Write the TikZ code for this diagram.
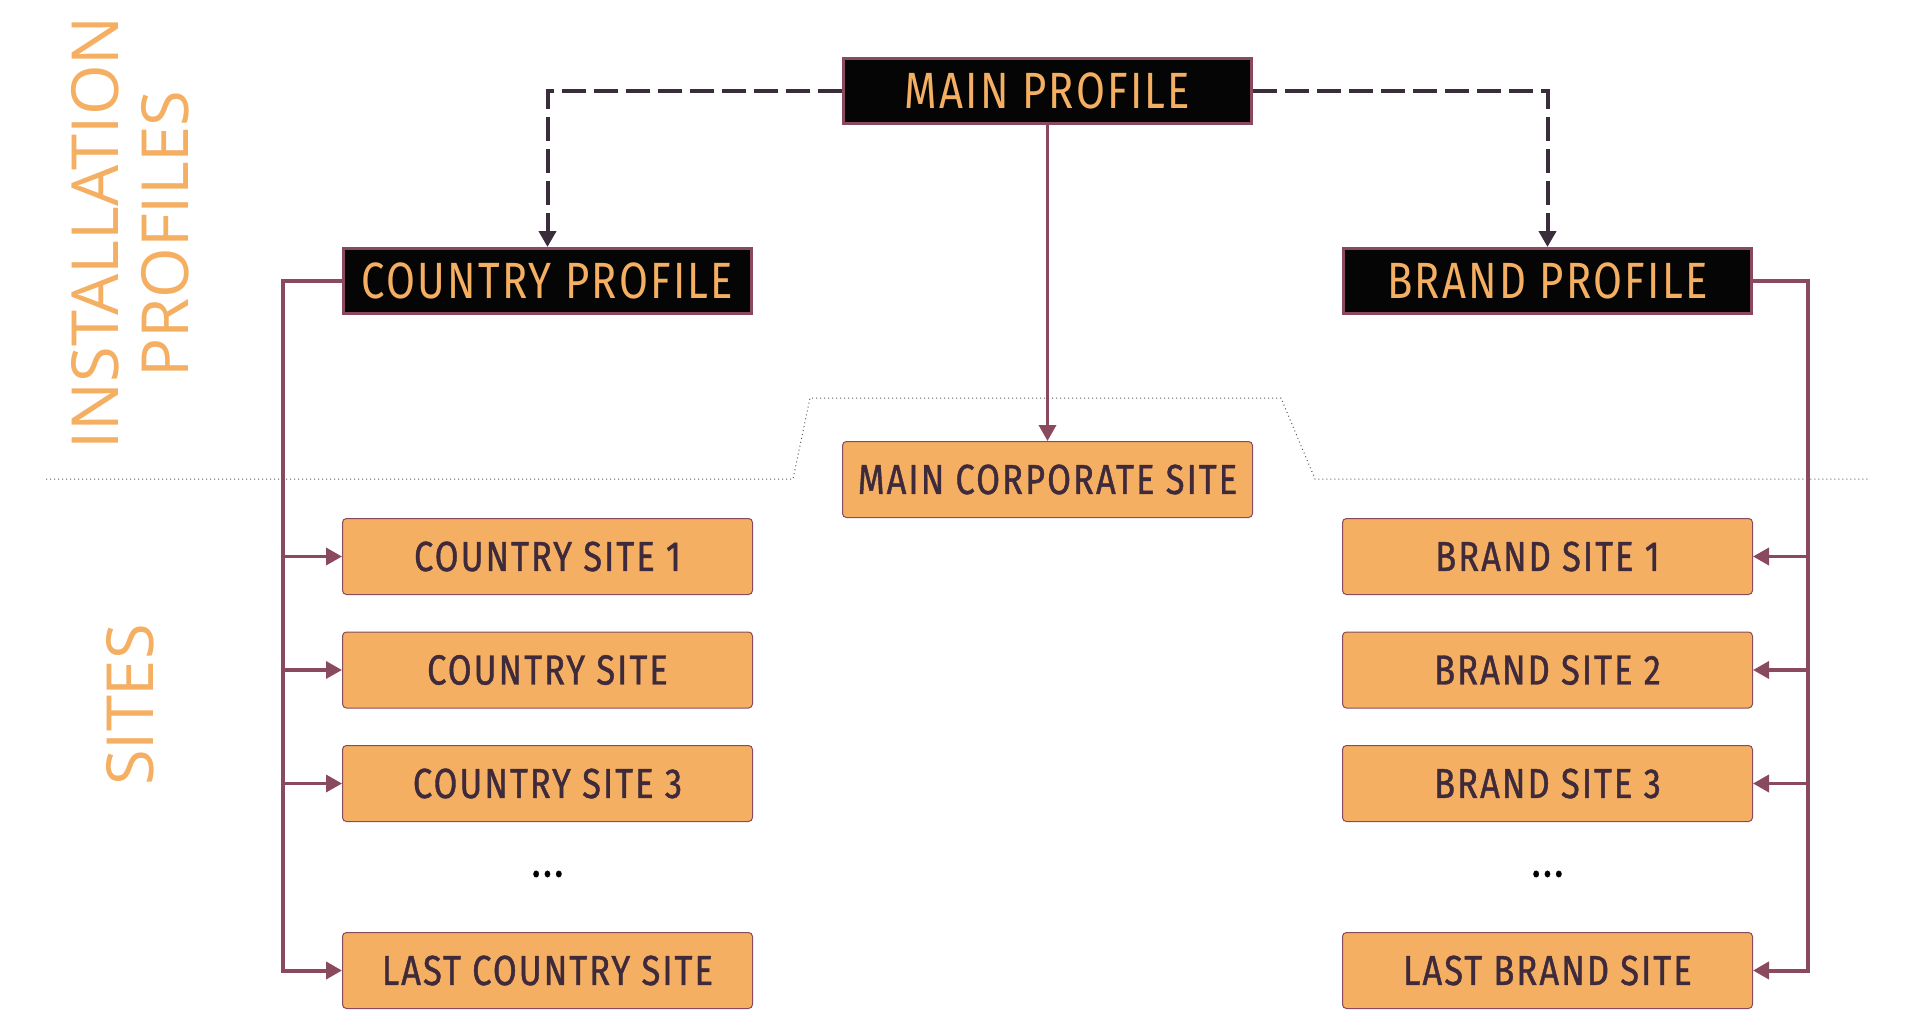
\documentclass[tikz,border=0pt]{standalone}
\usepackage{fontspec}
\setmainfont{Fira Sans}
\newfontfamily\condf{Fira Sans}[FakeStretch=0.82,LetterSpace=4.5]
\newfontfamily\condbf{Fira Sans}[FakeStretch=0.82,LetterSpace=5,FakeBold=1]
\newfontfamily\sidef{Open Sans}
\usetikzlibrary{arrows.meta}
\definecolor{mauve}{HTML}{8A4A5D}
\definecolor{orangeF}{HTML}{F4AF62}
\definecolor{darkT}{HTML}{3E2A3B}
\definecolor{dashC}{HTML}{3A2C3A}
\tikzset{
  profilebox/.style={draw=mauve, line width=3pt, fill=black!98, text=orangeF,
    minimum width=408pt, minimum height=65pt, inner sep=0pt,
    font=\condf\fontsize{51}{51}\selectfont},
  sitebox/.style={draw=mauve, line width=1pt, fill=orangeF, rounded corners=4pt,
    text=darkT, minimum width=410pt, minimum height=76pt, inner sep=0pt,
    font=\condbf\fontsize{42}{42}\selectfont},
  solidarrow/.style={draw=mauve, line width=3.5pt, -{Triangle[length=16pt,width=17pt]}},
  trunkarrow/.style={draw=mauve, line width=4pt, -{Triangle[length=16pt,width=17pt]}},
  dasharrow/.style={draw=dashC, line width=4pt, dash pattern=on 24pt off 8pt,
    -{Triangle[length=16pt,width=17pt]}},
  sidelabel/.style={rotate=90, text=orangeF, inner sep=0pt,
    font=\sidef\fontsize{65}{65}\selectfont},
  dotsl/.style={text=black, font=\condbf\fontsize{46}{46}\selectfont}
}
\begin{document}
\begin{tikzpicture}[x=1pt,y=-1pt]
\useasboundingbox (0,0) rectangle (1915,1025);
% separator
\draw[gray!70!black, line width=1pt, dash pattern=on 1pt off 3pt]
  (46,479) -- (793,479) -- (810,398) -- (1281,398) -- (1315,479) -- (1869,479);
% side labels
\node[sidelabel] (lblinst) at (95,233) {INSTALLATION};
\node[sidelabel] (lblprof) at (165,234) {PROFILES};
\node[sidelabel] (lblsites) at (130,705) {SITES};
% profiles
\node[profilebox] (mp) at (1047.5,91) {MAIN PROFILE};
\node[profilebox] (cp) at (547.5,281) {COUNTRY PROFILE};
\node[profilebox] (bp) at (1547.5,281) {BRAND PROFILE};
% sites
\node[sitebox] (mc) at (1047.5,479.5) {MAIN CORPORATE SITE};
\node[sitebox] (c1) at (547.5,556.5) {COUNTRY SITE 1};
\node[sitebox] (c2) at (547.5,670) {COUNTRY SITE};
\node[sitebox] (c3) at (547.5,783.5) {COUNTRY SITE 3};
\node[dotsl] (cd) at (547.5,874) {...};
\node[sitebox] (c4) at (547.5,970.5) {LAST COUNTRY SITE};
\node[sitebox] (b1) at (1547.5,556.5) {BRAND SITE 1};
\node[sitebox] (b2) at (1547.5,670) {BRAND SITE 2};
\node[sitebox] (b3) at (1547.5,783.5) {BRAND SITE 3};
\node[dotsl] (bd) at (1547.5,874) {...};
\node[sitebox] (b4) at (1547.5,970.5) {LAST BRAND SITE};
% coordinates for trunks
\coordinate (lt) at (283,281);
\coordinate (rt) at (1808,281);
% dashed
\draw[dasharrow] (mp.west) -| (cp.north);
\draw[dasharrow] (mp.east) -| (bp.north);
% main
\draw[solidarrow] (mp.south) -- (mc.north);
% left trunk
\draw[trunkarrow] (cp.west) -- (lt) |- (c4.west);
\draw[solidarrow] (lt |- c1.west) -- (c1.west);
\draw[solidarrow] (lt |- c2.west) -- (c2.west);
\draw[solidarrow] (lt |- c3.west) -- (c3.west);
% right trunk
\draw[trunkarrow] (bp.east) -- (rt) |- (b4.east);
\draw[solidarrow] (rt |- b1.east) -- (b1.east);
\draw[solidarrow] (rt |- b2.east) -- (b2.east);
\draw[solidarrow] (rt |- b3.east) -- (b3.east);
\end{tikzpicture}
\end{document}
